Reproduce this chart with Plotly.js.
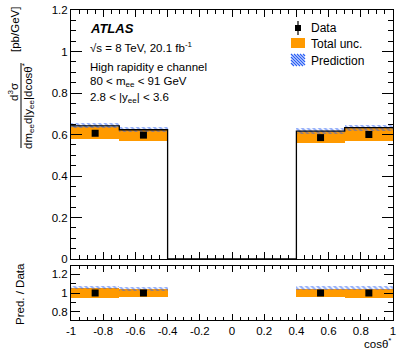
<!DOCTYPE html>
<html><head><meta charset="utf-8">
<script src="https://cdn.plot.ly/plotly-3.0.1.min.js"></script>
<style>html,body{margin:0;padding:0;background:#fff;}#c{width:399px;height:353px;}</style>
</head><body><div id="c"></div>
<script>
// ---- data ----
const binLow   = [-1.0, -0.7, 0.4, 0.7];
const binHigh  = [-0.7, -0.4, 0.7, 1.0];
const dataVal  = [0.606, 0.597, 0.585, 0.600];
const dataUnc  = [0.030, 0.027, 0.028, 0.029];
const predVal  = [0.642, 0.623, 0.616, 0.633];
const predUnc  = [0.012, 0.012, 0.013, 0.014];
const xTickVals = [-1, -0.8, -0.6, -0.4, -0.2, 0, 0.2, 0.4, 0.6, 0.8, 1];
const xTickText = ['-1', '-0.8', '-0.6', '-0.4', '-0.2', '0', '0.2', '0.4', '0.6', '0.8', '1'];

// ---- derived ----
const centers = binLow.map((l, i) => (l + binHigh[i]) / 2);
const widths = binLow.map((l, i) => binHigh[i] - l);
const ratioPred = predVal.map((p, i) => p / dataVal[i]);
const ratioPredUnc = predUnc.map((u, i) => u / dataVal[i]);
const ratioDataUnc = dataUnc.map((u, i) => u / dataVal[i]);
const ones = dataVal.map(() => 1);

// step line of prediction (empty central bin)
const stepX = [binLow[0], binLow[1], binHigh[1], binLow[2], binLow[3], binHigh[3]];
const stepY = [predVal[0], predVal[1], 0, predVal[2], predVal[3], predVal[3]];

const W = 399, H = 353, L = 71, R = 6, T = 10, B = 33;
const PW = W - L - R, PH = H - T - B;
const px = v => (v - L) / PW;
const py = v => (H - B - v) / PH;

const ORANGE = '#ff9a00';
const BLUE = '#2a5ff5';
const FONT = 'Liberation Sans, Arial, Helvetica, sans-serif';

const hatch = {shape: '\\', fgcolor: BLUE, bgcolor: 'rgba(0,0,0,0)', size: 4, solidity: 0.55, fillmode: 'overlay'};

const traces = [
  {type: 'bar', x: centers, width: widths, base: dataVal.map((v, i) => v - dataUnc[i]),
   y: dataUnc.map(u => 2 * u), marker: {color: ORANGE, line: {width: 0}},
   xaxis: 'x', yaxis: 'y', hoverinfo: 'skip', showlegend: false},
  {type: 'bar', x: centers, width: widths, base: predVal.map((v, i) => v - predUnc[i]),
   y: predUnc.map(u => 2 * u),
   marker: {color: 'rgba(0,0,0,0)', line: {width: 0}, pattern: hatch},
   xaxis: 'x', yaxis: 'y', hoverinfo: 'skip', showlegend: false},
  {type: 'scatter', mode: 'lines', x: stepX, y: stepY, line: {shape: 'hv', color: '#000', width: 1.3},
   xaxis: 'x', yaxis: 'y', showlegend: false, hoverinfo: 'skip'},
  {type: 'scatter', mode: 'markers', x: centers, y: dataVal,
   marker: {symbol: 'square', size: 7, color: '#000'}, xaxis: 'x', yaxis: 'y', showlegend: false},
  // ratio
  {type: 'bar', x: centers, width: widths, base: ratioDataUnc.map(u => 1 - u),
   y: ratioDataUnc.map(u => 2 * u), marker: {color: ORANGE, line: {width: 0}},
   xaxis: 'x2', yaxis: 'y2', hoverinfo: 'skip', showlegend: false},
  {type: 'bar', x: centers, width: widths, base: ratioPred.map((v, i) => v - ratioPredUnc[i]),
   y: ratioPredUnc.map(u => 2 * u),
   marker: {color: 'rgba(0,0,0,0)', line: {width: 0}, pattern: hatch},
   xaxis: 'x2', yaxis: 'y2', hoverinfo: 'skip', showlegend: false},
  {type: 'scatter', mode: 'markers', x: centers, y: ones,
   marker: {symbol: 'square', size: 7, color: '#000'}, xaxis: 'x2', yaxis: 'y2', showlegend: false}
];

const axCommon = {showline: true, linecolor: '#000', linewidth: 1, mirror: 'allticks', ticks: 'inside',
  tickcolor: '#000', tickwidth: 1, showgrid: false, zeroline: false,
  tickfont: {family: FONT, size: 11.5, color: '#000'}};

const mainBottom = py(259), ratioTop = py(266);

// legend hatch lines
const hx0 = 291, hx1 = 305, hy0 = 54, hy1 = 66;
let hatchPath = '';
for (let a = hx0 - (hy1 - hy0); a < hx1; a += 3) {
  let x0 = a, y0 = hy0, x1 = a + (hy1 - hy0), y1 = hy1;
  if (x0 < hx0) { y0 += hx0 - x0; x0 = hx0; }
  if (x1 > hx1) { y1 -= x1 - hx1; x1 = hx1; }
  if (y1 <= y0) continue;
  hatchPath += `M${px(x0)},${py(y0)} L${px(x1)},${py(y1)} `;
}

const shapes = [
  {type: 'line', xref: 'paper', yref: 'paper', x0: px(21), x1: px(21), y0: py(63), y1: py(148), line: {color: '#000', width: 1}},
  {type: 'line', xref: 'paper', yref: 'paper', x0: px(298), x1: px(298), y0: py(21), y1: py(35), line: {color: '#000', width: 1.2}},
  {type: 'rect', xref: 'paper', yref: 'paper', x0: px(295), x1: px(301), y0: py(25), y1: py(31), fillcolor: '#000', line: {width: 0}},
  {type: 'rect', xref: 'paper', yref: 'paper', x0: px(291), x1: px(305), y0: py(38), y1: py(48), fillcolor: ORANGE, line: {width: 0}},
  {type: 'path', xref: 'paper', yref: 'paper', path: hatchPath, line: {color: BLUE, width: 1.3}}
];

const ann = (x, y, text, opts) => Object.assign({xref: 'paper', yref: 'paper', x: px(x), y: py(y), text,
  showarrow: false, xanchor: 'left', yanchor: 'middle', font: {family: FONT, size: 11.5, color: '#000'}}, opts || {});

const annotations = [
  ann(88, 28, '<b><i>ATLAS</i></b>', {font: {family: FONT, size: 13, color: '#000'}}),
  ann(88, 47, '√s = 8 TeV, 20.1 fb<sup>-1</sup>'),
  ann(88, 67, 'High rapidity e channel'),
  ann(88, 82, '80 &lt; m<sub>ee</sub> &lt; 91 GeV'),
  ann(88, 98, '2.8 &lt; |y<sub>ee</sub>| &lt; 3.6'),
  ann(309, 28, 'Data', {font: {family: FONT, size: 12, color: '#000'}}),
  ann(309, 44, 'Total unc.', {font: {family: FONT, size: 12, color: '#000'}}),
  ann(309, 61, 'Prediction', {font: {family: FONT, size: 12, color: '#000'}}),
  ann(393, 343, 'cosθ<sup>*</sup>', {xanchor: 'right'}),
  ann(20, 294, 'Pred. / Data', {xanchor: 'center', textangle: -90}),
  ann(15, 30, '[pb/GeV]', {xanchor: 'center', textangle: -90}),
  ann(13, 92, 'd<sup>3</sup>σ', {xanchor: 'center', textangle: -90}),
  ann(28, 106, 'dm<sub>ee</sub>d|y<sub>ee</sub>|dcosθ<sup>*</sup>', {xanchor: 'center', textangle: -90})
];

const layout = {
  width: W, height: H, margin: {l: L, r: R, t: T, b: B},
  paper_bgcolor: '#fff', plot_bgcolor: '#fff', showlegend: false, barmode: 'overlay', bargap: 0,
  font: {family: FONT, size: 11.5, color: '#000'},
  xaxis: Object.assign({}, axCommon, {domain: [0, 1], anchor: 'y', range: [-1, 1], showticklabels: false,
    tickmode: 'linear', tick0: -1, dtick: 0.2, ticklen: 7,
    minor: {dtick: 0.05, tick0: -1, ticklen: 4, ticks: 'inside', tickcolor: '#000', showgrid: false}}),
  yaxis: Object.assign({}, axCommon, {domain: [mainBottom, 1], anchor: 'x', range: [0, 1.2],
    tickmode: 'linear', tick0: 0, dtick: 0.2, ticklen: 11,
    minor: {dtick: 0.05, tick0: 0, ticklen: 5, ticks: 'inside', tickcolor: '#000', showgrid: false}}),
  xaxis2: Object.assign({}, axCommon, {domain: [0, 1], anchor: 'y2', range: [-1, 1],
    tickmode: 'array', tickvals: xTickVals, ticktext: xTickText, ticklen: 6,
    minor: {dtick: 0.05, tick0: -1, ticklen: 3, ticks: 'inside', tickcolor: '#000', showgrid: false}}),
  yaxis2: Object.assign({}, axCommon, {domain: [0, ratioTop], anchor: 'x2', range: [0.71, 1.29],
    tickmode: 'linear', tick0: 0, dtick: 0.2, ticklen: 9,
    minor: {dtick: 0.1, tick0: 0, ticklen: 5, ticks: 'inside', tickcolor: '#000', showgrid: false}}),
  shapes, annotations
};

Plotly.newPlot('c', traces, layout, {displayModeBar: false, staticPlot: true});
</script>
</body></html>
